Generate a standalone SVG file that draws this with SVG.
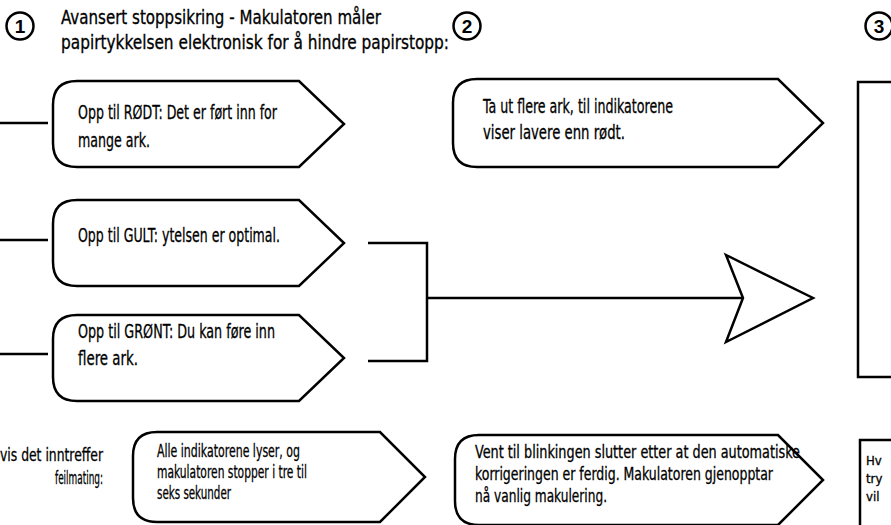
<svg xmlns="http://www.w3.org/2000/svg" width="891" height="525" viewBox="0 0 891 525">
<style>
.box{fill:#fff;stroke:#000;stroke-width:2.5;stroke-linejoin:miter}
.ln{fill:none;stroke:#000;stroke-width:2.5}
.circ{fill:#fff;stroke:#000;stroke-width:2.5}
.t{font-family:"Liberation Sans Narrow","DejaVu Sans Condensed","Liberation Sans",sans-serif;font-size:20px;fill:#000;stroke:#000;stroke-width:0.3}
.h{font-size:19px}
.s{font-size:18px}
.x{font-size:13px}
.num{font-family:"Liberation Sans",Arial,sans-serif;font-weight:bold;font-size:19px;text-anchor:middle;fill:#000}
</style>
<rect width="891" height="525" fill="#fff"/>
<g id="step1">
  <circle class="circ" cx="20" cy="26" r="13.5"/>
  <text class="num" x="20" y="33">1</text>
  <text class="t h" x="61" y="24" textLength="320" lengthAdjust="spacingAndGlyphs">Avansert stoppsikring - Makulatoren måler</text>
  <text class="t h" x="61" y="49" textLength="388" lengthAdjust="spacingAndGlyphs">papirtykkelsen elektronisk for å hindre papirstopp:</text>
</g>
<g id="step2">
  <circle class="circ" cx="467" cy="26" r="13.5"/>
  <text class="num" x="467" y="33">2</text>
</g>
<g id="step3">
  <circle class="circ" cx="879" cy="26" r="13.5"/>
  <text class="num" x="879" y="33">3</text>
</g>
<g id="connectors">
  <line class="ln" x1="0" y1="123" x2="48" y2="123"/>
  <line class="ln" x1="0" y1="240" x2="48" y2="240"/>
  <line class="ln" x1="0" y1="354" x2="48" y2="354"/>
  <polyline class="ln" points="368,243 427,243 427,361 368,361"/>
  <line class="ln" x1="427" y1="298" x2="745" y2="298"/>
  <polygon class="box" points="726,255 813,298 726,342 743,298"/>
</g>
<g id="red">
  <path class="box" d="M77,81 H299 L344,124 L299,167 H77 C60,167 53,158 53,143 V105 C53,90 60,81 77,81 Z"/>
  <text class="t" x="78" y="119" textLength="199" lengthAdjust="spacingAndGlyphs">Opp til RØDT: Det er ført inn for</text>
  <text class="t" x="78" y="147" textLength="72" lengthAdjust="spacingAndGlyphs">mange ark.</text>
</g>
<g id="yellow">
  <path class="box" d="M77,200 H299 L344,243 L299,286 H77 C60,286 53,277 53,262 V224 C53,209 60,200 77,200 Z"/>
  <text class="t" x="78" y="242" textLength="202" lengthAdjust="spacingAndGlyphs">Opp til GULT: ytelsen er optimal.</text>
</g>
<g id="green">
  <path class="box" d="M77,315 H299 L344,358 L299,401 H77 C60,401 53,392 53,377 V339 C53,324 60,315 77,315 Z"/>
  <text class="t" x="78" y="338" textLength="197" lengthAdjust="spacingAndGlyphs">Opp til GRØNT: Du kan føre inn</text>
  <text class="t" x="78" y="365" textLength="60" lengthAdjust="spacingAndGlyphs">flere ark.</text>
</g>
<g id="remove">
  <path class="box" d="M477,79 H778 L823,123 L778,167 H477 C460,167 453,158 453,143 V103 C453,88 460,79 477,79 Z"/>
  <text class="t" x="483" y="113" textLength="190" lengthAdjust="spacingAndGlyphs">Ta ut flere ark, til indikatorene</text>
  <text class="t" x="483" y="139" textLength="142" lengthAdjust="spacingAndGlyphs">viser lavere enn rødt.</text>
</g>
<g id="result">
  <rect class="box" x="858" y="82" width="60" height="295"/>
</g>
<g id="misfeed-label">
  <text class="t s" x="103" y="461" text-anchor="end" textLength="103" lengthAdjust="spacingAndGlyphs">vis det inntreffer</text>
  <text class="t s" x="103" y="484" text-anchor="end" textLength="48" lengthAdjust="spacingAndGlyphs">feilmating:</text>
</g>
<g id="misfeed">
  <path class="box" d="M157,432 H380 L425,477 L380,522 H157 C140,522 133,513 133,498 V456 C133,441 140,432 157,432 Z"/>
  <text class="t s" x="157" y="457" textLength="143" lengthAdjust="spacingAndGlyphs">Alle indikatorene lyser, og</text>
  <text class="t s" x="157" y="478" textLength="150" lengthAdjust="spacingAndGlyphs">makulatoren stopper i tre til</text>
  <text class="t s" x="157" y="499" textLength="74" lengthAdjust="spacingAndGlyphs">seks sekunder</text>
</g>
<g id="wait">
  <path class="box" d="M479,435 H778 L823,480 L778,525 H479 C462,525 455,516 455,501 V459 C455,444 462,435 479,435 Z"/>
  <text class="t s" x="475" y="458" textLength="325" lengthAdjust="spacingAndGlyphs">Vent til blinkingen slutter etter at den automatiske</text>
  <text class="t s" x="475" y="480" textLength="298" lengthAdjust="spacingAndGlyphs">korrigeringen er ferdig. Makulatoren gjenopptar</text>
  <text class="t s" x="475" y="502" textLength="132" lengthAdjust="spacingAndGlyphs">nå vanlig makulering.</text>
</g>
<g id="note">
  <rect class="box" x="860" y="440" width="60" height="100"/>
  <text class="t x" x="866" y="465">Hv</text>
  <text class="t x" x="866" y="483">try</text>
  <text class="t x" x="866" y="501">vil</text>
</g>
</svg>
